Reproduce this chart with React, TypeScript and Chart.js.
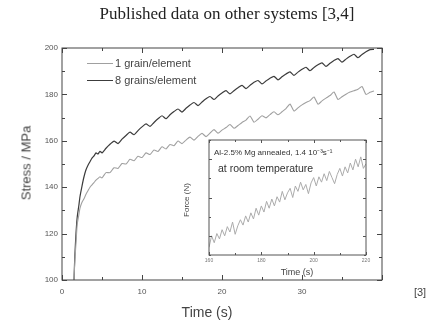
import React, { useEffect, useRef } from "react";
import { Chart, registerables } from "chart.js";

Chart.register(...registerables);

const TITLE = "Published data on other systems [3,4]";
const X_LABEL = "Time (s)";
const Y_LABEL = "Stress / MPa";
const SERIES_NAMES = ["1 grain/element", "8 grains/element"];
const REF_NOTE = "[3]";
const INSET_NOTE_1 = "Al-2.5% Mg annealed,  1.4 10⁻³s⁻¹";
const INSET_NOTE_2 = "at room temperature";
const INSET_X_LABEL = "Time (s)";
const INSET_Y_LABEL = "Force (N)";

// main chart: time (s)
const timeS = [
  1.5, 1.6, 1.75, 1.9, 2.1, 2.25, 2.5, 2.75, 3, 3.25, 3.5, 3.75, 4, 4.25, 4.5, 4.75,
  5, 5.5, 6, 6.5, 7, 7.5, 8, 8.5, 9, 9.5, 10, 10.5, 11, 11.5, 12, 12.5, 13, 13.5, 14, 14.5,
  15, 15.5, 16, 16.5, 17, 17.5, 18, 18.5, 19, 19.5, 20, 20.5, 21, 21.5, 22, 22.5, 23, 23.5,
  24, 24.5, 25, 25.5, 26, 26.5, 27, 27.5, 28, 28.5, 29, 29.5, 30, 30.5, 31, 31.5, 32, 32.5,
  33, 33.5, 34, 34.5, 35, 35.5, 36, 36.5, 37, 37.5, 38, 38.5, 39,
];

// stress (MPa), 1 grain/element
const oneGrain = [
  100, 108, 116, 124, 128, 131, 133.5, 135, 137, 138.5, 140, 141, 142, 143, 143.8, 144.5,
  144.0, 146.3, 146.3, 148.4, 148.1, 150.2, 150.0, 152.0, 151.4, 153.3, 152.8, 154.8, 154.1,
  156.0, 155.4, 157.4, 156.5, 158.4, 157.9, 159.9, 158.8, 160.3, 161.6, 160.3, 161.9, 163.2,
  161.8, 163.3, 164.8, 163.3, 164.6, 165.7, 167.0, 165.4, 166.6, 167.9, 168.9, 170.7, 168.0,
  169.3, 170.8, 169.9, 171.3, 172.5, 171.2, 172.5, 173.9, 175.8, 172.8, 174.2, 175.5, 176.5,
  177.3, 178.9, 175.8, 177.2, 178.4, 179.5, 181.0, 177.8, 179.0, 180.1, 181.0, 181.6, 182.2,
  183.4, 180.0, 180.9, 181.5,
];

// stress (MPa), 8 grains/element
const eightGrains = [
  100, 110, 120, 127, 132, 136, 140.5, 144.5, 147.5, 149.5, 151, 152.5, 153.5, 154.8, 154.3, 155.5,
  154.8, 156.8, 158.5, 159.9, 158.8, 160.7, 162.3, 163.7, 162.6, 164.4, 166.0, 167.3, 166.2,
  167.9, 169.5, 170.8, 169.5, 171.2, 172.6, 173.7, 172.4, 174.0, 175.4, 176.5, 175.2, 176.7,
  178.1, 179.1, 177.8, 179.3, 180.6, 181.6, 180.2, 181.6, 182.9, 183.9, 182.5, 183.9, 185.2,
  186.0, 184.5, 185.8, 187.0, 187.8, 186.3, 187.6, 188.8, 189.7, 188.2, 189.6, 190.8, 191.7,
  190.2, 191.6, 192.8, 193.6, 192.1, 193.4, 194.6, 195.4, 193.9, 195.2, 196.4, 197.3, 195.8,
  197.2, 198.4, 199.3, 199.4,
];

// inset: time (s) and force (N)
const insetTime = [
  160, 161, 162, 163, 164, 165, 166, 167, 168, 169, 170, 171, 172, 173, 174, 175, 176, 177, 178,
  179, 180, 181, 182, 183, 184, 185, 186, 187, 188, 189, 190, 191, 192, 193, 194, 195, 196, 197,
  198, 199, 200, 201, 202, 203, 204, 205, 206, 207, 208, 209, 210, 211, 212, 213, 214, 215, 216,
  217, 218, 219, 220,
];
const insetForce = [
  1735, 1750, 1741, 1753, 1746, 1758, 1750, 1762, 1755, 1768, 1752, 1763, 1771, 1764, 1776, 1768,
  1780, 1772, 1786, 1777, 1789, 1781, 1795, 1786, 1798, 1789, 1801, 1794, 1808, 1797, 1806, 1812,
  1800, 1815, 1808, 1820, 1810, 1817, 1805, 1819, 1826, 1815, 1827, 1820, 1831, 1822, 1834, 1826,
  1818, 1830, 1838, 1828, 1840, 1832, 1845, 1836, 1850, 1840, 1853, 1838, 1844,
];

const SANS = "'Liberation Sans', Arial, sans-serif";

const frameTicks = {
  id: "frameTicks",
  afterDatasetsDraw(chart: any, _args: any, opts: any) {
    const { ctx, chartArea: a, scales } = chart;
    const xs = scales.x;
    const ys = scales.y;
    ctx.save();
    ctx.strokeStyle = opts.color;
    ctx.lineWidth = opts.lineWidth;
    ctx.strokeRect(a.left, a.top, a.right - a.left, a.bottom - a.top);
    const isMajor = (v: number, m: number) => Math.abs(v / m - Math.round(v / m)) < 1e-6;
    ctx.beginPath();
    for (let v = xs.min; v <= xs.max + 1e-9; v += opts.xMinor) {
      const px = Math.round(xs.getPixelForValue(v)) + 0.5;
      const len = isMajor(v, opts.xMajor) ? opts.majorLen : opts.minorLen;
      ctx.moveTo(px, a.bottom);
      ctx.lineTo(px, a.bottom - len);
      ctx.moveTo(px, a.top);
      ctx.lineTo(px, a.top + len);
    }
    for (let v = ys.min; v <= ys.max + 1e-9; v += opts.yMinor) {
      const py = Math.round(ys.getPixelForValue(v)) + 0.5;
      const len = isMajor(v, opts.yMajor) ? opts.majorLen : opts.minorLen;
      ctx.moveTo(a.left, py);
      ctx.lineTo(a.left + len, py);
      ctx.moveTo(a.right, py);
      ctx.lineTo(a.right - len, py);
    }
    ctx.stroke();
    ctx.restore();
  },
};

const abs = (left: number, top: number, extra: any = {}) => ({
  position: "absolute" as const,
  left,
  top,
  whiteSpace: "nowrap" as const,
  lineHeight: 1,
  ...extra,
});

export default function App() {
  const mainRef = useRef<HTMLCanvasElement>(null);
  const insetRef = useRef<HTMLCanvasElement>(null);

  useEffect(() => {
    const main = new Chart(mainRef.current!, {
      type: "line",
      data: {
        datasets: [
          {
            label: SERIES_NAMES[0],
            data: timeS.map((t, i) => ({ x: t, y: oneGrain[i] })),
            borderColor: "#a0a0a0",
            borderWidth: 1.1,
            pointRadius: 0,
            tension: 0.2,
          },
          {
            label: SERIES_NAMES[1],
            data: timeS.map((t, i) => ({ x: t, y: eightGrains[i] })),
            borderColor: "#3c3c3c",
            borderWidth: 1.2,
            pointRadius: 0,
            tension: 0.2,
          },
        ],
      },
      options: {
        animation: false,
        responsive: false,
        maintainAspectRatio: false,
        layout: { padding: { left: 0, right: 46, top: 48, bottom: 0 } },
        plugins: {
          legend: { display: false },
          tooltip: { enabled: false },
          frameTicks: { color: "#444", lineWidth: 1, majorLen: 5, minorLen: 3, xMajor: 10, xMinor: 5, yMajor: 20, yMinor: 10 },
        } as any,
        scales: {
          x: {
            type: "linear",
            min: 0,
            max: 40,
            grid: { display: false, drawTicks: false },
            border: { display: false },
            ticks: {
              stepSize: 10,
              padding: 7,
              maxRotation: 0,
              color: "#555",
              font: { family: SANS, size: 8 },
              callback: (v: any) => (v === 40 ? "" : String(v)),
            },
            afterFit: (s: any) => {
              s.height = 42;
            },
          },
          y: {
            type: "linear",
            min: 100,
            max: 200,
            grid: { display: false, drawTicks: false },
            border: { display: false },
            ticks: {
              stepSize: 20,
              padding: 4,
              color: "#555",
              font: { family: SANS, size: 8 },
            },
            afterFit: (s: any) => {
              s.width = 62;
            },
          },
        },
      },
      plugins: [frameTicks],
    });

    const inset = new Chart(insetRef.current!, {
      type: "line",
      data: {
        datasets: [
          {
            label: INSET_Y_LABEL,
            data: insetTime.map((t, i) => ({ x: t, y: insetForce[i] })),
            borderColor: "#ababab",
            borderWidth: 1,
            pointRadius: 0,
            tension: 0,
          },
        ],
      },
      options: {
        animation: false,
        responsive: false,
        maintainAspectRatio: false,
        layout: { padding: { left: 0, right: 9, top: 10, bottom: 0 } },
        plugins: {
          legend: { display: false },
          tooltip: { enabled: false },
          frameTicks: { color: "#555", lineWidth: 1, majorLen: 3, minorLen: 2, xMajor: 20, xMinor: 10, yMajor: 50, yMinor: 25 },
        } as any,
        scales: {
          x: {
            type: "linear",
            min: 160,
            max: 220,
            grid: { display: false, drawTicks: false },
            border: { display: false },
            ticks: {
              stepSize: 20,
              padding: 3,
              maxRotation: 0,
              color: "#777",
              font: { family: SANS, size: 5 },
            },
            afterFit: (s: any) => {
              s.height = 25;
            },
          },
          y: {
            type: "linear",
            min: 1725,
            max: 1875,
            grid: { display: false, drawTicks: false },
            border: { display: false },
            ticks: {
              stepSize: 50,
              padding: 4,
              color: "#777",
              font: { family: SANS, size: 5 },
              callback: (v: any) => (v % 50 === 0 ? String(v) : ""),
            },
            afterFit: (s: any) => {
              s.width = 34;
            },
          },
        },
      },
      plugins: [frameTicks],
    });

    return () => {
      main.destroy();
      inset.destroy();
    };
  }, []);

  const center = "translate(-50%, -50%)";

  return (
    <div style={{ position: "absolute", left: 0, top: 0, width: 428, height: 322, background: "#fff", fontFamily: SANS, overflow: "hidden" }}>
      <canvas ref={mainRef} width={428} height={322} style={{ position: "absolute", left: 0, top: 0, width: 428, height: 322 }} />
      <canvas ref={insetRef} width={200} height={150} style={{ position: "absolute", left: 175, top: 130, width: 200, height: 150 }} />

      <div style={abs(227, 13, { transform: center, fontFamily: "'Liberation Serif', 'Times New Roman', serif", fontSize: 17, color: "#222" })}>{TITLE}</div>
      <div style={abs(26, 163, { transform: center + " rotate(-90deg)", fontSize: 13, color: "#444" })}>{Y_LABEL}</div>
      <div style={abs(207, 312, { transform: center, fontSize: 14, color: "#444" })}>{X_LABEL}</div>
      <div style={abs(420, 292, { transform: center, fontSize: 11, color: "#444" })}>{REF_NOTE}</div>

      <div style={{ position: "absolute", left: 87, top: 63, width: 26, height: 0, borderTop: "1.2px solid #a0a0a0" }} />
      <div style={abs(115, 63, { transform: "translateY(-50%)", fontSize: 11, color: "#444" })}>{SERIES_NAMES[0]}</div>
      <div style={{ position: "absolute", left: 87, top: 80, width: 26, height: 0, borderTop: "1.2px solid #3c3c3c" }} />
      <div style={abs(115, 80, { transform: "translateY(-50%)", fontSize: 11, color: "#444" })}>{SERIES_NAMES[1]}</div>

      <div style={abs(214, 153, { transform: "translateY(-50%)", fontSize: 8, color: "#333" })}>{INSET_NOTE_1}</div>
      <div style={abs(218, 168, { transform: "translateY(-50%)", fontSize: 10.5, color: "#333" })}>{INSET_NOTE_2}</div>
      <div style={abs(187, 200, { transform: center + " rotate(-90deg)", fontSize: 8, color: "#444" })}>{INSET_Y_LABEL}</div>
      <div style={abs(297, 272, { transform: center, fontSize: 9, color: "#444" })}>{INSET_X_LABEL}</div>
    </div>
  );
}
